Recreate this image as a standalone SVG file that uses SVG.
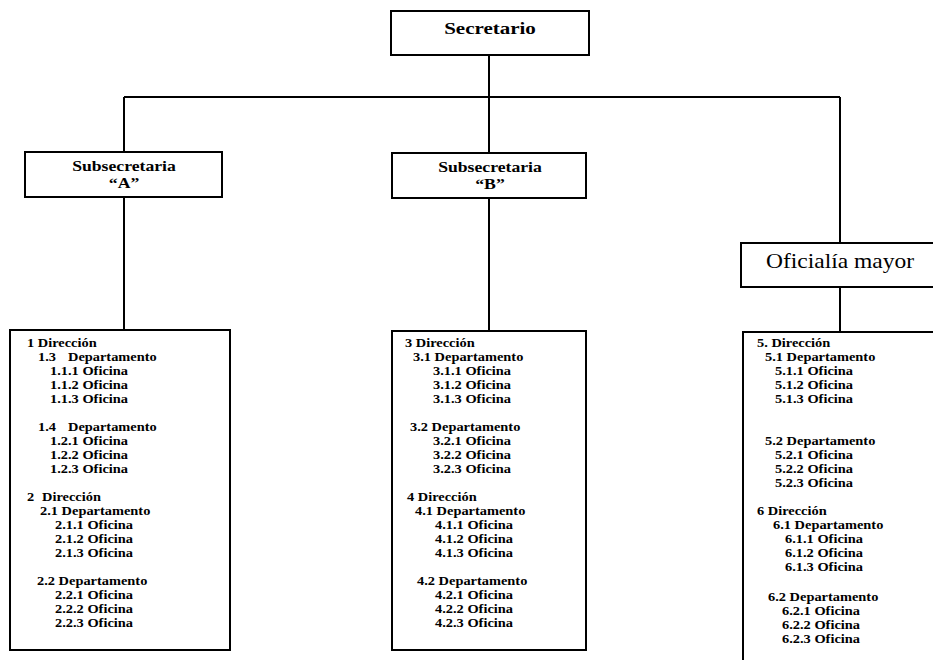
<svg xmlns="http://www.w3.org/2000/svg" width="933" height="660" viewBox="0 0 933 660">
<style>
.box{fill:#fff;stroke:#000;stroke-width:2}
.ln{stroke:#000;stroke-width:2;fill:none}
.t{font-family:"Liberation Serif","Times New Roman",serif;font-weight:bold;font-size:12px;fill:#000}
.big{font-family:"Liberation Serif","Times New Roman",serif;font-weight:bold;fill:#000;text-anchor:middle}
.of{font-family:"Liberation Serif","Times New Roman",serif;font-weight:normal;fill:#000;text-anchor:middle;font-size:21px}
</style>
<rect width="933" height="660" fill="#fff"/>
<g id="connectors">
<path class="ln" d="M489 55V97M124 97H840M124 97V152M489 97V153M840 97V243M124 197V330M489 198V331M840 287V332"/>
</g>
<g id="secretario">
<rect class="box" x="391" y="11" width="198" height="44"/>
<text class="big" font-size="17.5" transform="translate(490 34) scale(1.2 1)">Secretario</text>
</g>
<g id="subA">
<rect class="box" x="25" y="152" width="197" height="45"/>
<text class="big" font-size="14.5" transform="translate(124 171) scale(1.22 1)">Subsecretaria</text>
<text class="big" font-size="14.5" transform="translate(124 188) scale(1.22 1)">“A”</text>
</g>
<g id="subB">
<rect class="box" x="392" y="153" width="194" height="45"/>
<text class="big" font-size="14.5" transform="translate(490 172) scale(1.22 1)">Subsecretaria</text>
<text class="big" font-size="14.5" transform="translate(490 189) scale(1.22 1)">“B”</text>
</g>
<g id="oficialia">
<rect class="box" x="741" y="243" width="200" height="44"/>
<text class="of" transform="translate(840 268) scale(1.12 1)">Oficialía mayor</text>
</g>
<g id="boxA">
<rect class="box" x="10" y="330" width="220" height="320"/>
<text class="t" transform="translate(27 347) scale(1.2 1)">1 Dirección</text>
<text class="t" transform="translate(38 361) scale(1.2 1)">1.3<tspan x="25">Departamento</tspan></text>
<text class="t" transform="translate(50 375) scale(1.2 1)">1.1.1 Oficina</text>
<text class="t" transform="translate(50 389) scale(1.2 1)">1.1.2 Oficina</text>
<text class="t" transform="translate(50 403) scale(1.2 1)">1.1.3 Oficina</text>
<text class="t" transform="translate(38 431) scale(1.2 1)">1.4<tspan x="25">Departamento</tspan></text>
<text class="t" transform="translate(50 445) scale(1.2 1)">1.2.1 Oficina</text>
<text class="t" transform="translate(50 459) scale(1.2 1)">1.2.2 Oficina</text>
<text class="t" transform="translate(50 473) scale(1.2 1)">1.2.3 Oficina</text>
<text class="t" transform="translate(27 501) scale(1.2 1)">2<tspan x="12.5">Dirección</tspan></text>
<text class="t" transform="translate(40 515) scale(1.2 1)">2.1 Departamento</text>
<text class="t" transform="translate(55 529) scale(1.2 1)">2.1.1 Oficina</text>
<text class="t" transform="translate(55 543) scale(1.2 1)">2.1.2 Oficina</text>
<text class="t" transform="translate(55 557) scale(1.2 1)">2.1.3 Oficina</text>
<text class="t" transform="translate(37 585) scale(1.2 1)">2.2 Departamento</text>
<text class="t" transform="translate(55 599) scale(1.2 1)">2.2.1 Oficina</text>
<text class="t" transform="translate(55 613) scale(1.2 1)">2.2.2 Oficina</text>
<text class="t" transform="translate(55 627) scale(1.2 1)">2.2.3 Oficina</text>
</g>
<g id="boxB">
<rect class="box" x="392" y="331" width="194" height="319"/>
<text class="t" transform="translate(405 347) scale(1.2 1)">3 Dirección</text>
<text class="t" transform="translate(413 361) scale(1.2 1)">3.1 Departamento</text>
<text class="t" transform="translate(433 375) scale(1.2 1)">3.1.1 Oficina</text>
<text class="t" transform="translate(433 389) scale(1.2 1)">3.1.2 Oficina</text>
<text class="t" transform="translate(433 403) scale(1.2 1)">3.1.3 Oficina</text>
<text class="t" transform="translate(410 431) scale(1.2 1)">3.2 Departamento</text>
<text class="t" transform="translate(433 445) scale(1.2 1)">3.2.1 Oficina</text>
<text class="t" transform="translate(433 459) scale(1.2 1)">3.2.2 Oficina</text>
<text class="t" transform="translate(433 473) scale(1.2 1)">3.2.3 Oficina</text>
<text class="t" transform="translate(407 501) scale(1.2 1)">4 Dirección</text>
<text class="t" transform="translate(415 515) scale(1.2 1)">4.1 Departamento</text>
<text class="t" transform="translate(435 529) scale(1.2 1)">4.1.1 Oficina</text>
<text class="t" transform="translate(435 543) scale(1.2 1)">4.1.2 Oficina</text>
<text class="t" transform="translate(435 557) scale(1.2 1)">4.1.3 Oficina</text>
<text class="t" transform="translate(417 585) scale(1.2 1)">4.2 Departamento</text>
<text class="t" transform="translate(435 599) scale(1.2 1)">4.2.1 Oficina</text>
<text class="t" transform="translate(435 613) scale(1.2 1)">4.2.2 Oficina</text>
<text class="t" transform="translate(435 627) scale(1.2 1)">4.2.3 Oficina</text>
</g>
<g id="boxC">
<rect class="box" x="743" y="332" width="200" height="340"/>
<text class="t" transform="translate(757 347) scale(1.2 1)">5. Dirección</text>
<text class="t" transform="translate(765 361) scale(1.2 1)">5.1 Departamento</text>
<text class="t" transform="translate(775 375) scale(1.2 1)">5.1.1 Oficina</text>
<text class="t" transform="translate(775 389) scale(1.2 1)">5.1.2 Oficina</text>
<text class="t" transform="translate(775 403) scale(1.2 1)">5.1.3 Oficina</text>
<text class="t" transform="translate(765 445) scale(1.2 1)">5.2 Departamento</text>
<text class="t" transform="translate(775 459) scale(1.2 1)">5.2.1 Oficina</text>
<text class="t" transform="translate(775 473) scale(1.2 1)">5.2.2 Oficina</text>
<text class="t" transform="translate(775 487) scale(1.2 1)">5.2.3 Oficina</text>
<text class="t" transform="translate(757 515) scale(1.2 1)">6 Dirección</text>
<text class="t" transform="translate(773 529) scale(1.2 1)">6.1 Departamento</text>
<text class="t" transform="translate(785 543) scale(1.2 1)">6.1.1 Oficina</text>
<text class="t" transform="translate(785 557) scale(1.2 1)">6.1.2 Oficina</text>
<text class="t" transform="translate(785 571) scale(1.2 1)">6.1.3 Oficina</text>
<text class="t" transform="translate(768 601) scale(1.2 1)">6.2 Departamento</text>
<text class="t" transform="translate(782 615) scale(1.2 1)">6.2.1 Oficina</text>
<text class="t" transform="translate(782 629) scale(1.2 1)">6.2.2 Oficina</text>
<text class="t" transform="translate(782 643) scale(1.2 1)">6.2.3 Oficina</text>
</g>
</svg>
